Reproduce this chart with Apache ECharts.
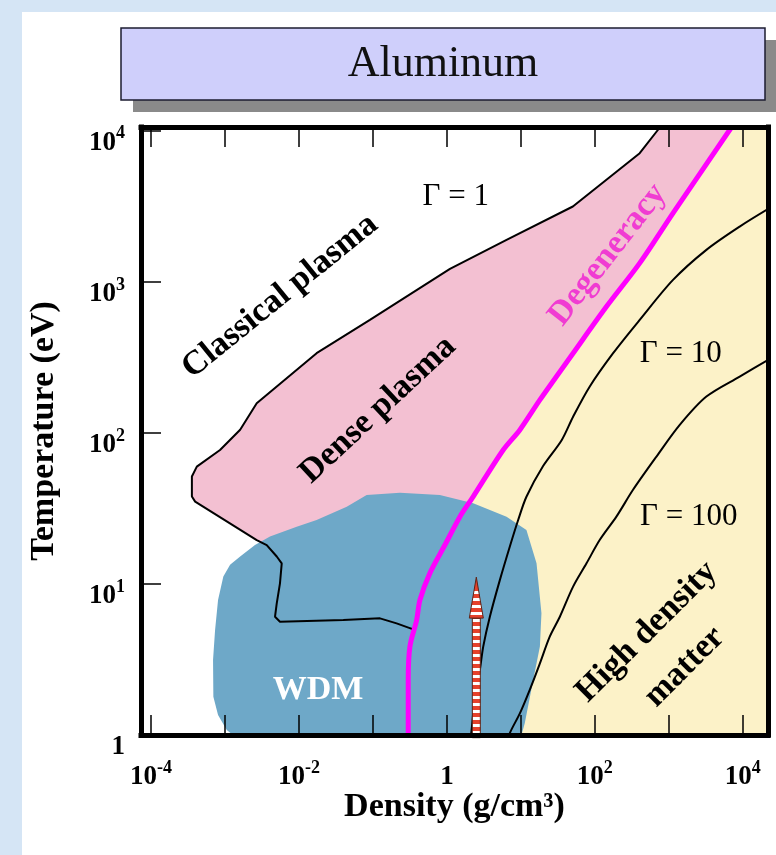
<!DOCTYPE html>
<html><head><meta charset="utf-8">
<script src="https://cdn.jsdelivr.net/npm/echarts@6/dist/echarts.min.js"></script>
<style>html,body{margin:0;padding:0;background:#d5e5f5;}#c{width:776px;height:855px;}</style>
</head><body><div id="c"></div>
<script>
// ---- axis ranges (g/cm3, eV) ----
const X_MIN = 7.3e-5, X_MAX = 2.2e4, Y_MIN = 1, Y_MAX = 1.06e4;

// ---- curves: [density g/cm3, temperature eV] ----
const gamma1 = [[766,10600],[405,7110],[50.5,3155],[6.41,1897],[1.10,1219],[0.091,560],[0.0173,337],
  [0.00268,157],[0.0016,105],[0.000855,77],[0.000415,59.8],[0.000356,51.4],[0.000356,37.9],[0.000394,35.1],
  [0.00268,19.5],[0.00366,18.1],[0.0050,15.2],[0.00584,13.7],[0.00553,10.1],[0.0050,7.44],[0.00474,6.07],
  [0.00553,5.62],[0.0397,5.77],[0.1245,5.92],[0.209,5.48],[0.351,5.0]];
const degeneracy = [[7100,10600],[1143,2851],[405,1330],[144,686],[50.9,337],[18.1,165.5],[9.69,104.7],
  [5.77,77.1],[2.27,37.9],[1.50,27.9],[0.94,18.1],[0.589,11.8],[0.432,7.83],[0.39,5.78],[0.316,3.85],
  [0.30,2.31],[0.30,1.0]];
const gamma10 = [[24700,3140],[9110,2323],[3230,1629],[1143,1030],[405,560],[177,337],[85.6,203],[50.9,128],
  [35.8,89.9],[20.0,60.4],[11.9,37.8],[9.2,26.5],[7.1,17.7],[5.2,10.6],[3.81,6.07],[3.10,3.85],[2.79,2.69],
  [2.39,1.79],[2.16,1.08],[2.08,0.93]];
const gamma100 = [[24660,314],[9110,236],[3230,174],[1409,113],[682,69.7],[329,42.0],[196,27.9],[117,19.6],
  [77.3,13.7],[50.9,9.6],[33.7,6.07],[24.6,4.48],[18.1,2.98],[13.2,1.99],[9.7,1.39],[7.1,1.03],[6.88,0.93]];
const wdmRegion = [[0.00128,1],[0.001054,1.079],[0.000804,1.357],[0.000695,1.793],[0.000688,3.14],
  [0.000733,4.96],[0.000804,7.83],[0.000948,11.2],[0.00117,13.4],[0.0016,15.2],[0.00254,18.1],[0.00405,20.6],
  [0.0093,23.9],[0.0173,26.5],[0.0442,32.5],[0.0822,38.8],[0.232,40.1],[0.804,38.8],[2.27,34.2],[6.41,27.9],
  [11.9,22.8],[16.3,13.7],[19.0,6.40],[18.1,3.85],[14.7,2.31],[11.3,1.195],[10.2,1]];
// solid aluminium marker: [density, T bottom, T tip]
const arrowData = [[2.5, 0.96, 11.1]];

// ---- annotation texts and anchors ----
const labelTexts = ['Classical plasma','Dense plasma','Degeneracy','High density','matter','WDM'];
const labelAnchors = [[0.00553,802],[0.117,142],[150,1510],[505,4.81],[1645,2.82],[0.0181,1.99]];
const gammaTexts = ['Γ = 1','Γ = 10','Γ = 100'];
const gammaAnchors = [[1.32,3656],[1453,333],[1862,27.8]];

// ---- styles ----
const FONT = 'Liberation Serif';
const labelStyle = {
  'Classical plasma': {rotate: 39, color: '#000'},
  'Dense plasma': {rotate: 43, color: '#000'},
  'Degeneracy': {rotate: 52, color: '#f03cd2'},
  'High density': {rotate: 45, color: '#000'},
  'matter': {rotate: 45, color: '#000'},
  'WDM': {rotate: 0, color: '#ffffff'}
};

const pinkRegion = gamma1.concat(degeneracy.filter(p => p[1] > 5.0).reverse());
const yellowRegion = degeneracy.concat([[X_MAX, Y_MIN],[X_MAX, Y_MAX]]);

function polygonSeries(pts, color, z) {
  return {
    type: 'custom', coordinateSystem: 'cartesian2d', data: pts, clip: true, z: z, silent: true,
    encode: {x: 0, y: 1},
    renderItem: function (params, api) {
      if (params.dataIndex !== 0) return null;
      return {type: 'polygon', shape: {points: pts.map(p => api.coord(p))}, style: {fill: color}};
    }
  };
}
function lineSeries(pts, color, width, smooth, z) {
  return {type: 'line', data: pts, symbol: 'none', smooth: smooth, clip: true, z: z, silent: true,
    lineStyle: {color: color, width: width, opacity: 1}, animation: false};
}
function logLabel(v, onlyEven) {
  const l = Math.log10(v); const e = Math.round(l);
  if (Math.abs(l - e) > 1e-6) return '';
  if (onlyEven && e % 2 !== 0) return '';
  if (e === 0) return '{b|1}';
  return '{b|10}{s|' + e + '}';
}
const richLab = {
  b: {fontFamily: FONT, fontWeight: 'bold', fontSize: 27, color: '#000', lineHeight: 36},
  s: {fontFamily: FONT, fontWeight: 'bold', fontSize: 18, color: '#000', lineHeight: 18, verticalAlign: 'top'}
};
function stripes(x, y1, y2, period, c1, c2) {
  const n = Math.abs(y2 - y1) / period, step = 1 / n, stops = [];
  for (let i = 0; i < n; i++) {
    const a = i * step, b = Math.min(1, a + step / 2), c = Math.min(1, a + step);
    stops.push({offset: a, color: c1}, {offset: b, color: c1}, {offset: b, color: c2}, {offset: c, color: c2});
  }
  return {type: 'linear', x: x, y: y1, x2: x, y2: y2, global: true, colorStops: stops};
}

const axisLineStyle = {show: true, onZero: false, lineStyle: {color: '#000', width: 5, cap: 'square'}};
const tickStyle = {show: true, inside: true, length: 20, lineStyle: {color: '#000', width: 1.5}};
const labelBase = {show: true, position: 'inside', formatter: '{b}', fontFamily: FONT, opacity: 1,
  textBorderWidth: 0, textShadowBlur: 0};

const chart = echarts.init(document.getElementById('c'), null, {renderer: 'canvas'});
chart.setOption({
  animation: false,
  backgroundColor: '#d5e5f5',
  graphic: [
    {type: 'rect', z: -10, shape: {x: 22, y: 12, width: 760, height: 850}, style: {fill: '#ffffff'}},
    {type: 'rect', z: 1, shape: {x: 133, y: 40, width: 644, height: 72}, style: {fill: '#8a8a8a'}},
    {type: 'rect', z: 2, shape: {x: 121, y: 28, width: 644, height: 72}, style: {fill: '#cfcffb', stroke: '#1c1c30', lineWidth: 1.5}},
    {type: 'text', z: 3, x: 443, y: 64, style: {text: 'Aluminum', font: '44px "Liberation Serif"', fill: '#111', align: 'center', verticalAlign: 'middle'}}
  ],
  grid: {left: 141, top: 127, width: 627, height: 608, show: false, containLabel: false, outerBoundsMode: 'none'},
  xAxis: [
    {type: 'log', logBase: 10, min: X_MIN, max: X_MAX, position: 'bottom', z: 10,
     axisLine: axisLineStyle, axisTick: tickStyle, splitLine: {show: false}, minorTick: {show: false},
     axisLabel: {margin: 24, formatter: v => logLabel(v, true), rich: richLab, hideOverlap: false},
     name: 'Density (g/cm³)', nameLocation: 'middle', nameGap: 55, nameMoveOverlap: false,
     nameTextStyle: {fontFamily: FONT, fontWeight: 'bold', fontSize: 34, color: '#000'}},
    {type: 'log', logBase: 10, min: X_MIN, max: X_MAX, position: 'top', z: 10,
     axisLine: axisLineStyle, axisTick: tickStyle, splitLine: {show: false}, axisLabel: {show: false}}
  ],
  yAxis: [
    {type: 'log', logBase: 10, min: Y_MIN, max: Y_MAX, position: 'left', z: 10,
     axisLine: axisLineStyle, axisTick: tickStyle, splitLine: {show: false}, minorTick: {show: false},
     axisLabel: {margin: 16, formatter: v => logLabel(v, false), rich: richLab, padding: [24, 0, 0, 0], hideOverlap: false},
     name: 'Temperature (eV)', nameLocation: 'middle', nameGap: 80, nameRotate: 90, nameMoveOverlap: false,
     nameTextStyle: {fontFamily: FONT, fontWeight: 'bold', fontSize: 34, color: '#000'}},
    {type: 'log', logBase: 10, min: Y_MIN, max: Y_MAX, position: 'right', z: 10,
     axisLine: axisLineStyle, axisTick: {show: false}, splitLine: {show: false}, axisLabel: {show: false}}
  ],
  series: [
    polygonSeries(yellowRegion, '#fcf2c8', 1),
    polygonSeries(pinkRegion, '#f3c0d2', 2),
    polygonSeries(wdmRegion, '#6ea8c8', 3),
    lineSeries(gamma1, '#000', 2, false, 4),
    lineSeries(gamma10, '#000', 2, 0.3, 4),
    lineSeries(gamma100, '#000', 2, 0.3, 4),
    lineSeries(degeneracy, '#ff00ff', 5, 0.3, 5),
    {type: 'custom', coordinateSystem: 'cartesian2d', data: arrowData, clip: false, z: 6, silent: true,
     encode: {x: 0, y: [1, 2]},
     renderItem: function (params, api) {
       const base = api.coord([api.value(0), api.value(1)]);
       const tip = api.coord([api.value(0), api.value(2)]);
       const x = base[0], headLen = 41, headW = 7, shaftW = 4, headBase = tip[1] + headLen;
       const grad = stripes(x, tip[1] + 10, base[1], 7, '#e5412b', '#ffffff');
       return {type: 'group', children: [
         {type: 'rect', shape: {x: x - shaftW, y: headBase, width: 2 * shaftW, height: base[1] - headBase},
          style: {fill: grad, stroke: '#5e2418', lineWidth: 1}},
         {type: 'polygon', shape: {points: [[x, tip[1]], [x + headW, headBase], [x - headW, headBase]]},
          style: {fill: grad, stroke: '#5e2418', lineWidth: 1}}
       ]};
     }},
    {type: 'scatter', symbolSize: 0, z: 7, silent: true, itemStyle: {opacity: 1},
     data: labelTexts.map((t, i) => ({name: t, value: labelAnchors[i],
       label: {rotate: labelStyle[t].rotate, color: labelStyle[t].color}})),
     label: Object.assign({}, labelBase, {fontWeight: 'bold', fontSize: 34})},
    {type: 'scatter', symbolSize: 0, z: 7, silent: true, itemStyle: {opacity: 1},
     data: gammaTexts.map((t, i) => ({name: t, value: gammaAnchors[i]})),
     label: Object.assign({}, labelBase, {fontSize: 31, color: '#000'})}
  ]
});
</script></body></html>
